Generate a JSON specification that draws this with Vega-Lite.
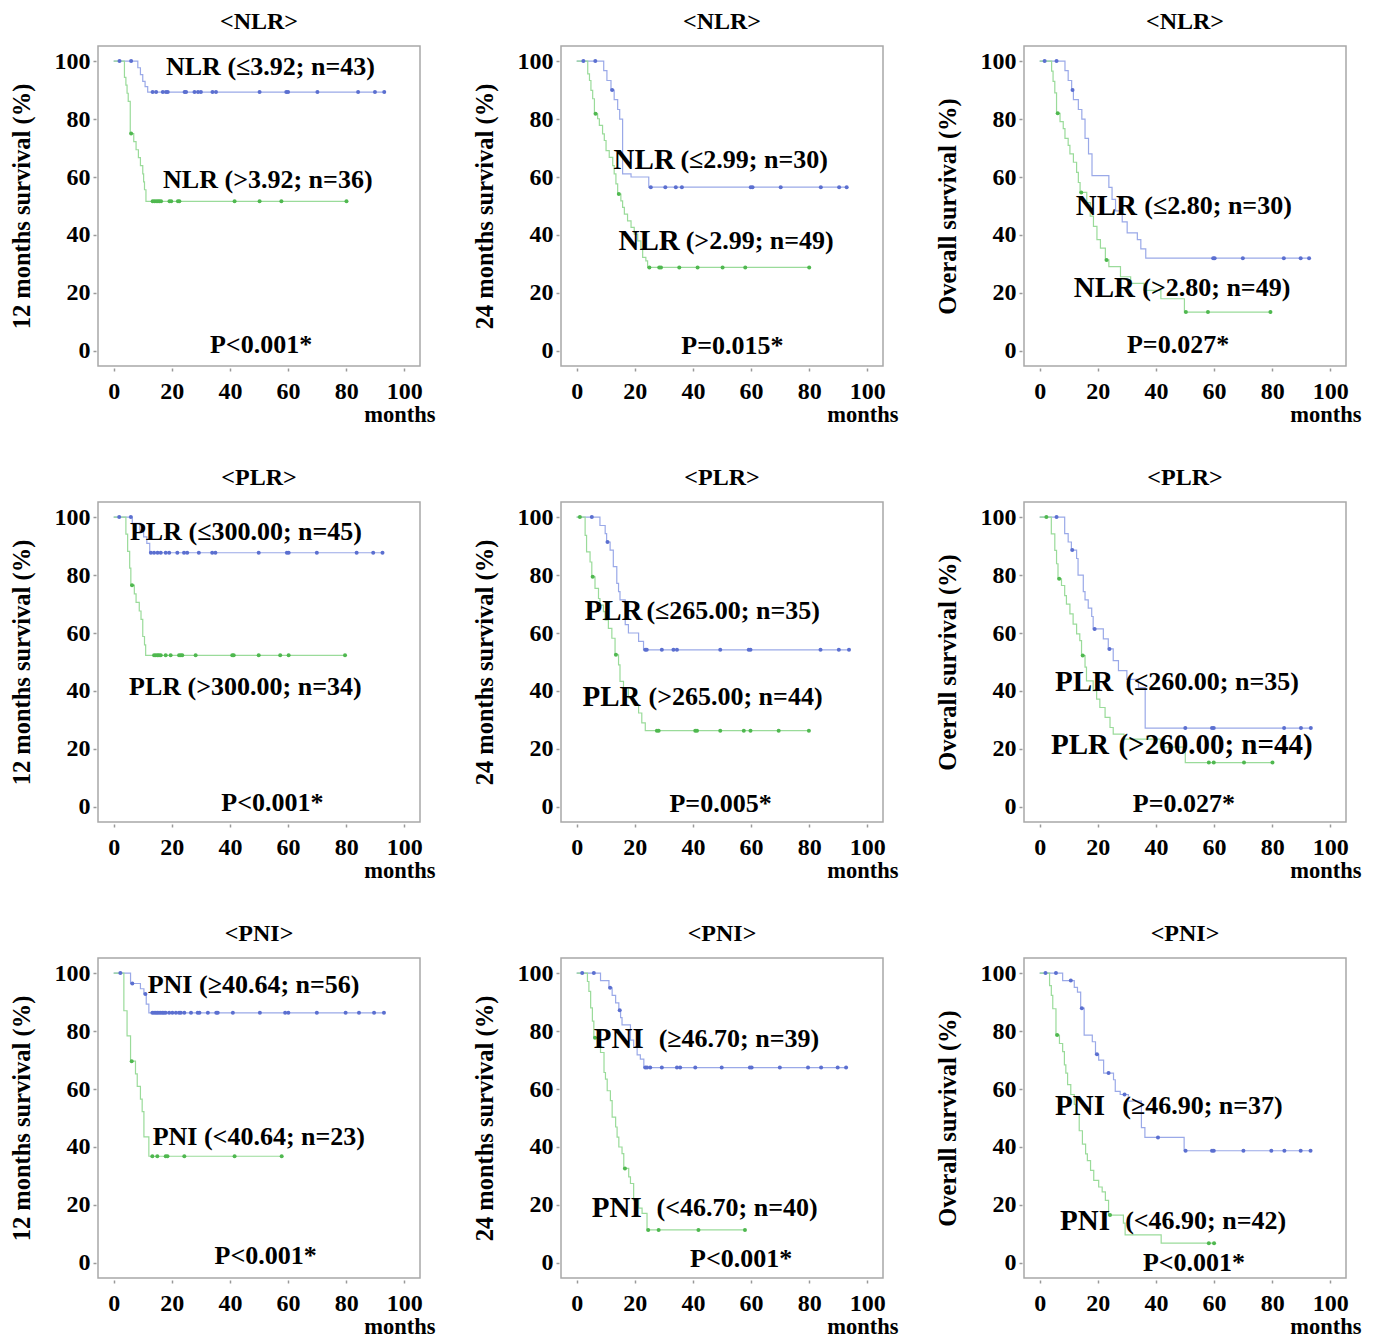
{
"$schema": "https://vega.github.io/schema/vega-lite/v6.json",
"background": "white",
"padding": {"left": 8, "top": 9, "right": 5, "bottom": 5},
"config": {
  "font": "Liberation Serif",
  "view": {"stroke": "#a8a8a8", "strokeWidth": 1.5},
  "axis": {"domain": false, "grid": false, "ticks": true, "tickSize": 3, "tickWidth": 1.5, "tickColor": "#999999", "offset": 2,
           "labelFont": "Liberation Serif", "labelFontWeight": "bold", "labelFontSize": 24, "labelColor": "black",
           "titleFont": "Liberation Serif", "titleFontWeight": "bold", "titleFontSize": 24.5, "titleColor": "black"},
  "axisX": {"labelPadding": 8, "titleX": 337, "titleAlign": "right", "titlePadding": 0, "titleFontSize": 22.5},
  "axisY": {"labelPadding": 3, "titlePadding": 19.5},
  "title": {"font": "Liberation Serif", "fontSize": 24, "fontWeight": "bold", "offset": 12, "color": "black"},
  "text": {"font": "Liberation Serif", "fontWeight": "bold", "color": "black"}
},
"datasets": {
"km": [
{"p":1,"g":"a","t":0,"s":100,"c":0},{"p":1,"g":"a","t":2,"s":100,"c":1},{"p":1,"g":"a","t":6,"s":100,"c":1},{"p":1,"g":"a","t":8.3,"s":97.7,"c":0},{"p":1,"g":"a","t":9.2,"s":95.3,"c":0},{"p":1,"g":"a","t":10,"s":93,"c":0},{"p":1,"g":"a","t":10.8,"s":91.2,"c":0},{"p":1,"g":"a","t":11.7,"s":89.3,"c":0},
{"p":1,"g":"a","t":13.4,"s":89.3,"c":1},{"p":1,"g":"a","t":14.6,"s":89.3,"c":1},{"p":1,"g":"a","t":16.9,"s":89.3,"c":1},{"p":1,"g":"a","t":18,"s":89.3,"c":1},{"p":1,"g":"a","t":18.6,"s":89.3,"c":1},{"p":1,"g":"a","t":24.4,"s":89.3,"c":1},{"p":1,"g":"a","t":24.9,"s":89.3,"c":1},{"p":1,"g":"a","t":27.8,"s":89.3,"c":1},{"p":1,"g":"a","t":29,"s":89.3,"c":1},{"p":1,"g":"a","t":30,"s":89.3,"c":1},{"p":1,"g":"a","t":34,"s":89.3,"c":1},{"p":1,"g":"a","t":35.2,"s":89.3,"c":1},{"p":1,"g":"a","t":50.2,"s":89.3,"c":1},{"p":1,"g":"a","t":59.4,"s":89.3,"c":1},{"p":1,"g":"a","t":60,"s":89.3,"c":1},{"p":1,"g":"a","t":70.1,"s":89.3,"c":1},{"p":1,"g":"a","t":84.1,"s":89.3,"c":1},{"p":1,"g":"a","t":89.9,"s":89.3,"c":1},{"p":1,"g":"a","t":93.1,"s":89.3,"c":1},
{"p":1,"g":"b","t":0,"s":100,"c":0},{"p":1,"g":"b","t":3.7,"s":94.4,"c":0},{"p":1,"g":"b","t":4.2,"s":91.7,"c":0},{"p":1,"g":"b","t":4.6,"s":88.9,"c":0},{"p":1,"g":"b","t":5,"s":86.1,"c":0},{"p":1,"g":"b","t":5.7,"s":75,"c":0},{"p":1,"g":"b","t":6,"s":75,"c":1},{"p":1,"g":"b","t":6.9,"s":72.2,"c":0},{"p":1,"g":"b","t":7.7,"s":69.4,"c":0},{"p":1,"g":"b","t":8.5,"s":66.7,"c":0},{"p":1,"g":"b","t":9.2,"s":63.9,"c":0},{"p":1,"g":"b","t":10,"s":61.1,"c":0},{"p":1,"g":"b","t":10.3,"s":58.3,"c":0},{"p":1,"g":"b","t":10.6,"s":55.6,"c":0},{"p":1,"g":"b","t":11.1,"s":51.6,"c":0},
{"p":1,"g":"b","t":13.4,"s":51.6,"c":1},{"p":1,"g":"b","t":14,"s":51.6,"c":1},{"p":1,"g":"b","t":14.6,"s":51.6,"c":1},{"p":1,"g":"b","t":15.2,"s":51.6,"c":1},{"p":1,"g":"b","t":15.7,"s":51.6,"c":1},{"p":1,"g":"b","t":16.3,"s":51.6,"c":1},{"p":1,"g":"b","t":19.2,"s":51.6,"c":1},{"p":1,"g":"b","t":19.8,"s":51.6,"c":1},{"p":1,"g":"b","t":22.1,"s":51.6,"c":1},{"p":1,"g":"b","t":22.6,"s":51.6,"c":1},{"p":1,"g":"b","t":41.6,"s":51.6,"c":1},{"p":1,"g":"b","t":50.2,"s":51.6,"c":1},{"p":1,"g":"b","t":57.7,"s":51.6,"c":1},{"p":1,"g":"b","t":80.1,"s":51.6,"c":1},
{"p":2,"g":"a","t":0,"s":100,"c":0},{"p":2,"g":"a","t":2.3,"s":100,"c":1},{"p":2,"g":"a","t":6.4,"s":100,"c":1},{"p":2,"g":"a","t":9.3,"s":96.7,"c":0},{"p":2,"g":"a","t":10.4,"s":93.3,"c":0},{"p":2,"g":"a","t":11.8,"s":90,"c":0},{"p":2,"g":"a","t":12.2,"s":90,"c":1},{"p":2,"g":"a","t":12.9,"s":86.7,"c":0},{"p":2,"g":"a","t":14.1,"s":83.3,"c":0},{"p":2,"g":"a","t":14.8,"s":80,"c":0},{"p":2,"g":"a","t":15.8,"s":61.1,"c":0},{"p":2,"g":"a","t":18.7,"s":60,"c":0},{"p":2,"g":"a","t":24.8,"s":56.5,"c":0},
{"p":2,"g":"a","t":25.5,"s":56.5,"c":1},{"p":2,"g":"a","t":30.5,"s":56.5,"c":1},{"p":2,"g":"a","t":34.1,"s":56.5,"c":1},{"p":2,"g":"a","t":36.2,"s":56.5,"c":1},{"p":2,"g":"a","t":59.9,"s":56.5,"c":1},{"p":2,"g":"a","t":60.5,"s":56.5,"c":1},{"p":2,"g":"a","t":70.2,"s":56.5,"c":1},{"p":2,"g":"a","t":84,"s":56.5,"c":1},{"p":2,"g":"a","t":90.3,"s":56.5,"c":1},{"p":2,"g":"a","t":92.9,"s":56.5,"c":1},
{"p":2,"g":"b","t":0,"s":100,"c":0},{"p":2,"g":"b","t":3.8,"s":95.6,"c":0},{"p":2,"g":"b","t":4.4,"s":93.3,"c":0},{"p":2,"g":"b","t":4.9,"s":89.9,"c":0},{"p":2,"g":"b","t":5.5,"s":87,"c":0},{"p":2,"g":"b","t":6.1,"s":81.8,"c":0},{"p":2,"g":"b","t":6.5,"s":81.8,"c":1},{"p":2,"g":"b","t":7.2,"s":80.1,"c":0},{"p":2,"g":"b","t":7.8,"s":77.8,"c":0},{"p":2,"g":"b","t":8.9,"s":74.9,"c":0},{"p":2,"g":"b","t":9.5,"s":72.6,"c":0},{"p":2,"g":"b","t":10.1,"s":69.1,"c":0},{"p":2,"g":"b","t":11.2,"s":66.8,"c":0},{"p":2,"g":"b","t":12.4,"s":63.9,"c":0},{"p":2,"g":"b","t":12.9,"s":61.1,"c":0},{"p":2,"g":"b","t":13.5,"s":57.6,"c":0},{"p":2,"g":"b","t":14.1,"s":54.1,"c":0},{"p":2,"g":"b","t":14.5,"s":54.1,"c":1},{"p":2,"g":"b","t":15.2,"s":51.8,"c":0},{"p":2,"g":"b","t":15.8,"s":49.5,"c":0},{"p":2,"g":"b","t":16.4,"s":47.2,"c":0},{"p":2,"g":"b","t":17.5,"s":44.9,"c":0},{"p":2,"g":"b","t":18.7,"s":42.6,"c":0},{"p":2,"g":"b","t":19.8,"s":40.3,"c":0},{"p":2,"g":"b","t":21,"s":38,"c":0},{"p":2,"g":"b","t":22.1,"s":35.1,"c":0},{"p":2,"g":"b","t":22.7,"s":32.3,"c":0},{"p":2,"g":"b","t":23.8,"s":31.1,"c":0},{"p":2,"g":"b","t":24.4,"s":28.8,"c":0},
{"p":2,"g":"b","t":25,"s":28.8,"c":1},{"p":2,"g":"b","t":28.4,"s":28.8,"c":1},{"p":2,"g":"b","t":29,"s":28.8,"c":1},{"p":2,"g":"b","t":35.3,"s":28.8,"c":1},{"p":2,"g":"b","t":41.6,"s":28.8,"c":1},{"p":2,"g":"b","t":50.2,"s":28.8,"c":1},{"p":2,"g":"b","t":58,"s":28.8,"c":1},{"p":2,"g":"b","t":80,"s":28.8,"c":1},
{"p":3,"g":"a","t":0,"s":100,"c":0},{"p":3,"g":"a","t":1.7,"s":100,"c":1},{"p":3,"g":"a","t":5.8,"s":100,"c":1},{"p":3,"g":"a","t":8.7,"s":96.7,"c":0},{"p":3,"g":"a","t":9.8,"s":93.3,"c":0},{"p":3,"g":"a","t":11,"s":90,"c":0},{"p":3,"g":"a","t":11.3,"s":90,"c":1},{"p":3,"g":"a","t":11.6,"s":86.7,"c":0},{"p":3,"g":"a","t":13.3,"s":83.3,"c":0},{"p":3,"g":"a","t":14.5,"s":80,"c":0},{"p":3,"g":"a","t":15.6,"s":73.3,"c":0},{"p":3,"g":"a","t":16.8,"s":68,"c":0},{"p":3,"g":"a","t":18,"s":60.5,"c":0},{"p":3,"g":"a","t":23.8,"s":56.4,"c":0},{"p":3,"g":"a","t":24.9,"s":52.3,"c":0},{"p":3,"g":"a","t":26.1,"s":48.3,"c":0},{"p":3,"g":"a","t":28.4,"s":44.5,"c":0},{"p":3,"g":"a","t":30.1,"s":40.7,"c":0},{"p":3,"g":"a","t":33.6,"s":38.4,"c":0},{"p":3,"g":"a","t":34.8,"s":35.2,"c":0},{"p":3,"g":"a","t":36.5,"s":32,"c":0},
{"p":3,"g":"a","t":59.7,"s":32,"c":1},{"p":3,"g":"a","t":60.2,"s":32,"c":1},{"p":3,"g":"a","t":69.9,"s":32,"c":1},{"p":3,"g":"a","t":84,"s":32,"c":1},{"p":3,"g":"a","t":89.8,"s":32,"c":1},{"p":3,"g":"a","t":92.7,"s":32,"c":1},
{"p":3,"g":"b","t":0,"s":100,"c":0},{"p":3,"g":"b","t":4.1,"s":96.5,"c":0},{"p":3,"g":"b","t":4.6,"s":93,"c":0},{"p":3,"g":"b","t":5.2,"s":89,"c":0},{"p":3,"g":"b","t":5.8,"s":82,"c":0},{"p":3,"g":"b","t":6.2,"s":82,"c":1},{"p":3,"g":"b","t":7,"s":79.1,"c":0},{"p":3,"g":"b","t":8.1,"s":76.7,"c":0},{"p":3,"g":"b","t":8.7,"s":73.3,"c":0},{"p":3,"g":"b","t":9.8,"s":70.9,"c":0},{"p":3,"g":"b","t":10.4,"s":68,"c":0},{"p":3,"g":"b","t":11.6,"s":65.1,"c":0},{"p":3,"g":"b","t":12.7,"s":61.6,"c":0},{"p":3,"g":"b","t":13.3,"s":58.1,"c":0},{"p":3,"g":"b","t":13.9,"s":54.7,"c":0},{"p":3,"g":"b","t":14.3,"s":54.7,"c":1},{"p":3,"g":"b","t":16.2,"s":51.2,"c":0},{"p":3,"g":"b","t":17.4,"s":46.5,"c":0},{"p":3,"g":"b","t":18.5,"s":43,"c":0},{"p":3,"g":"b","t":19.7,"s":38.4,"c":0},{"p":3,"g":"b","t":20.9,"s":35.5,"c":0},{"p":3,"g":"b","t":22.6,"s":31.4,"c":0},{"p":3,"g":"b","t":23,"s":31.4,"c":1},{"p":3,"g":"b","t":23.8,"s":29.1,"c":0},{"p":3,"g":"b","t":27.8,"s":25.6,"c":0},{"p":3,"g":"b","t":31.3,"s":23.3,"c":0},{"p":3,"g":"b","t":35.9,"s":20.9,"c":0},{"p":3,"g":"b","t":41.7,"s":18,"c":0},{"p":3,"g":"b","t":49.8,"s":13.4,"c":0},
{"p":3,"g":"b","t":50.3,"s":13.4,"c":1},{"p":3,"g":"b","t":57.9,"s":13.4,"c":1},{"p":3,"g":"b","t":79.4,"s":13.4,"c":1},
{"p":4,"g":"a","t":0,"s":100,"c":0},{"p":4,"g":"a","t":1.9,"s":100,"c":1},{"p":4,"g":"a","t":5.9,"s":100,"c":1},{"p":4,"g":"a","t":6.4,"s":97.8,"c":0},{"p":4,"g":"a","t":9,"s":95.5,"c":0},{"p":4,"g":"a","t":10.3,"s":93.2,"c":0},{"p":4,"g":"a","t":11.4,"s":90.9,"c":0},{"p":4,"g":"a","t":12.4,"s":87.7,"c":0},
{"p":4,"g":"a","t":12.8,"s":87.7,"c":1},{"p":4,"g":"a","t":13.9,"s":87.7,"c":1},{"p":4,"g":"a","t":15.1,"s":87.7,"c":1},{"p":4,"g":"a","t":16.2,"s":87.7,"c":1},{"p":4,"g":"a","t":17.9,"s":87.7,"c":1},{"p":4,"g":"a","t":19.1,"s":87.7,"c":1},{"p":4,"g":"a","t":21.9,"s":87.7,"c":1},{"p":4,"g":"a","t":24.2,"s":87.7,"c":1},{"p":4,"g":"a","t":25.3,"s":87.7,"c":1},{"p":4,"g":"a","t":29.3,"s":87.7,"c":1},{"p":4,"g":"a","t":33.9,"s":87.7,"c":1},{"p":4,"g":"a","t":35,"s":87.7,"c":1},{"p":4,"g":"a","t":49.9,"s":87.7,"c":1},{"p":4,"g":"a","t":59.6,"s":87.7,"c":1},{"p":4,"g":"a","t":60.2,"s":87.7,"c":1},{"p":4,"g":"a","t":69.9,"s":87.7,"c":1},{"p":4,"g":"a","t":83.6,"s":87.7,"c":1},{"p":4,"g":"a","t":89.3,"s":87.7,"c":1},{"p":4,"g":"a","t":92.5,"s":87.7,"c":1},
{"p":4,"g":"b","t":0,"s":100,"c":0},{"p":4,"g":"b","t":4.2,"s":94.1,"c":0},{"p":4,"g":"b","t":4.8,"s":88.2,"c":0},{"p":4,"g":"b","t":5.5,"s":82.4,"c":0},{"p":4,"g":"b","t":5.9,"s":76.5,"c":0},{"p":4,"g":"b","t":6.3,"s":76.5,"c":1},{"p":4,"g":"b","t":7.1,"s":73.5,"c":0},{"p":4,"g":"b","t":7.7,"s":70.6,"c":0},{"p":4,"g":"b","t":8.8,"s":67.6,"c":0},{"p":4,"g":"b","t":9.4,"s":64.7,"c":0},{"p":4,"g":"b","t":10,"s":58.8,"c":0},{"p":4,"g":"b","t":10.6,"s":55.9,"c":0},{"p":4,"g":"b","t":11,"s":52.3,"c":0},
{"p":4,"g":"b","t":13.9,"s":52.3,"c":1},{"p":4,"g":"b","t":14.5,"s":52.3,"c":1},{"p":4,"g":"b","t":15.1,"s":52.3,"c":1},{"p":4,"g":"b","t":15.6,"s":52.3,"c":1},{"p":4,"g":"b","t":16.2,"s":52.3,"c":1},{"p":4,"g":"b","t":17.9,"s":52.3,"c":1},{"p":4,"g":"b","t":19.6,"s":52.3,"c":1},{"p":4,"g":"b","t":22.5,"s":52.3,"c":1},{"p":4,"g":"b","t":23.1,"s":52.3,"c":1},{"p":4,"g":"b","t":23.6,"s":52.3,"c":1},{"p":4,"g":"b","t":28.2,"s":52.3,"c":1},{"p":4,"g":"b","t":40.8,"s":52.3,"c":1},{"p":4,"g":"b","t":41.3,"s":52.3,"c":1},{"p":4,"g":"b","t":49.9,"s":52.3,"c":1},{"p":4,"g":"b","t":57.3,"s":52.3,"c":1},{"p":4,"g":"b","t":60.2,"s":52.3,"c":1},{"p":4,"g":"b","t":79.6,"s":52.3,"c":1},
{"p":5,"g":"a","t":0,"s":100,"c":0},{"p":5,"g":"a","t":5.2,"s":100,"c":1},{"p":5,"g":"a","t":8,"s":97.1,"c":0},{"p":5,"g":"a","t":9.8,"s":94.3,"c":0},{"p":5,"g":"a","t":10.3,"s":91.4,"c":0},{"p":5,"g":"a","t":10.6,"s":91.4,"c":1},{"p":5,"g":"a","t":11.5,"s":88.6,"c":0},{"p":5,"g":"a","t":12.6,"s":82.9,"c":0},{"p":5,"g":"a","t":13.8,"s":77.1,"c":0},{"p":5,"g":"a","t":14.4,"s":74.3,"c":0},{"p":5,"g":"a","t":14.9,"s":71.4,"c":0},{"p":5,"g":"a","t":16.7,"s":62.9,"c":0},{"p":5,"g":"a","t":17.8,"s":60,"c":0},{"p":5,"g":"a","t":21.3,"s":57.1,"c":0},{"p":5,"g":"a","t":23,"s":54.2,"c":0},
{"p":5,"g":"a","t":23.6,"s":54.2,"c":1},{"p":5,"g":"a","t":24.1,"s":54.2,"c":1},{"p":5,"g":"a","t":29.3,"s":54.2,"c":1},{"p":5,"g":"a","t":33.3,"s":54.2,"c":1},{"p":5,"g":"a","t":34.5,"s":54.2,"c":1},{"p":5,"g":"a","t":49.4,"s":54.2,"c":1},{"p":5,"g":"a","t":59.2,"s":54.2,"c":1},{"p":5,"g":"a","t":59.8,"s":54.2,"c":1},{"p":5,"g":"a","t":83.9,"s":54.2,"c":1},{"p":5,"g":"a","t":90.2,"s":54.2,"c":1},{"p":5,"g":"a","t":93.7,"s":54.2,"c":1},
{"p":5,"g":"b","t":0,"s":100,"c":0},{"p":5,"g":"b","t":1.1,"s":100,"c":1},{"p":5,"g":"b","t":2.9,"s":93.7,"c":0},{"p":5,"g":"b","t":3.4,"s":88,"c":0},{"p":5,"g":"b","t":4.6,"s":84.5,"c":0},{"p":5,"g":"b","t":5.2,"s":79.4,"c":0},{"p":5,"g":"b","t":5.5,"s":79.4,"c":1},{"p":5,"g":"b","t":6.3,"s":75.4,"c":0},{"p":5,"g":"b","t":7.5,"s":71.9,"c":0},{"p":5,"g":"b","t":8,"s":69.6,"c":0},{"p":5,"g":"b","t":9.2,"s":67.4,"c":0},{"p":5,"g":"b","t":9.8,"s":64.5,"c":0},{"p":5,"g":"b","t":10.9,"s":61.6,"c":0},{"p":5,"g":"b","t":12.1,"s":58.2,"c":0},{"p":5,"g":"b","t":13.2,"s":52.5,"c":0},{"p":5,"g":"b","t":13.5,"s":52.5,"c":1},{"p":5,"g":"b","t":14.4,"s":49,"c":0},{"p":5,"g":"b","t":14.9,"s":43.3,"c":0},{"p":5,"g":"b","t":16.1,"s":41,"c":0},{"p":5,"g":"b","t":17.8,"s":37.6,"c":0},{"p":5,"g":"b","t":19.5,"s":35.3,"c":0},{"p":5,"g":"b","t":21.3,"s":32.4,"c":0},{"p":5,"g":"b","t":22.4,"s":29,"c":0},{"p":5,"g":"b","t":23.6,"s":26.3,"c":0},
{"p":5,"g":"b","t":27.6,"s":26.3,"c":1},{"p":5,"g":"b","t":28.2,"s":26.3,"c":1},{"p":5,"g":"b","t":40.8,"s":26.3,"c":1},{"p":5,"g":"b","t":41.4,"s":26.3,"c":1},{"p":5,"g":"b","t":49.4,"s":26.3,"c":1},{"p":5,"g":"b","t":57.5,"s":26.3,"c":1},{"p":5,"g":"b","t":59.8,"s":26.3,"c":1},{"p":5,"g":"b","t":69.5,"s":26.3,"c":1},{"p":5,"g":"b","t":79.9,"s":26.3,"c":1},
{"p":6,"g":"a","t":0,"s":100,"c":0},{"p":6,"g":"a","t":5.8,"s":100,"c":1},{"p":6,"g":"a","t":8.6,"s":94.3,"c":0},{"p":6,"g":"a","t":9.8,"s":91.4,"c":0},{"p":6,"g":"a","t":10.9,"s":88.6,"c":0},{"p":6,"g":"a","t":11.2,"s":88.6,"c":1},{"p":6,"g":"a","t":12.7,"s":85.7,"c":0},{"p":6,"g":"a","t":13.2,"s":80,"c":0},{"p":6,"g":"a","t":15,"s":74.3,"c":0},{"p":6,"g":"a","t":15.6,"s":71.4,"c":0},{"p":6,"g":"a","t":16.7,"s":68.6,"c":0},{"p":6,"g":"a","t":17.9,"s":65.7,"c":0},{"p":6,"g":"a","t":18.4,"s":61.4,"c":0},{"p":6,"g":"a","t":18.9,"s":61.4,"c":1},{"p":6,"g":"a","t":21.9,"s":58,"c":0},{"p":6,"g":"a","t":23.6,"s":54.5,"c":0},{"p":6,"g":"a","t":24,"s":54.5,"c":1},{"p":6,"g":"a","t":25.3,"s":50.5,"c":0},{"p":6,"g":"a","t":27.1,"s":47,"c":0},{"p":6,"g":"a","t":30,"s":44,"c":0},{"p":6,"g":"a","t":34,"s":41.2,"c":0},{"p":6,"g":"a","t":36.3,"s":27.2,"c":0},
{"p":6,"g":"a","t":50.1,"s":27.2,"c":1},{"p":6,"g":"a","t":59.3,"s":27.2,"c":1},{"p":6,"g":"a","t":59.9,"s":27.2,"c":1},{"p":6,"g":"a","t":84.1,"s":27.2,"c":1},{"p":6,"g":"a","t":89.9,"s":27.2,"c":1},{"p":6,"g":"a","t":93.3,"s":27.2,"c":1},
{"p":6,"g":"b","t":0,"s":100,"c":0},{"p":6,"g":"b","t":2.3,"s":100,"c":1},{"p":6,"g":"b","t":4,"s":94.2,"c":0},{"p":6,"g":"b","t":5.2,"s":88.5,"c":0},{"p":6,"g":"b","t":5.8,"s":83.9,"c":0},{"p":6,"g":"b","t":6.3,"s":78.7,"c":0},{"p":6,"g":"b","t":6.7,"s":78.7,"c":1},{"p":6,"g":"b","t":7.5,"s":76.4,"c":0},{"p":6,"g":"b","t":8.6,"s":72.9,"c":0},{"p":6,"g":"b","t":9.2,"s":70,"c":0},{"p":6,"g":"b","t":10.4,"s":66.6,"c":0},{"p":6,"g":"b","t":11.5,"s":63.1,"c":0},{"p":6,"g":"b","t":12.7,"s":59.7,"c":0},{"p":6,"g":"b","t":13.8,"s":57.4,"c":0},{"p":6,"g":"b","t":14.4,"s":52.2,"c":0},{"p":6,"g":"b","t":14.8,"s":52.2,"c":1},{"p":6,"g":"b","t":15.6,"s":48.2,"c":0},{"p":6,"g":"b","t":16.1,"s":43.5,"c":0},{"p":6,"g":"b","t":18.4,"s":40.1,"c":0},{"p":6,"g":"b","t":19.6,"s":37.2,"c":0},{"p":6,"g":"b","t":20.7,"s":34.3,"c":0},{"p":6,"g":"b","t":22.5,"s":30.9,"c":0},{"p":6,"g":"b","t":24.2,"s":27.4,"c":0},{"p":6,"g":"b","t":25.3,"s":25.1,"c":0},{"p":6,"g":"b","t":29,"s":23.4,"c":0},{"p":6,"g":"b","t":41.5,"s":20.6,"c":0},{"p":6,"g":"b","t":50.1,"s":15.3,"c":0},
{"p":6,"g":"b","t":58.2,"s":15.3,"c":1},{"p":6,"g":"b","t":59.9,"s":15.3,"c":1},{"p":6,"g":"b","t":70.3,"s":15.3,"c":1},{"p":6,"g":"b","t":80.1,"s":15.3,"c":1},
{"p":7,"g":"a","t":0,"s":100,"c":0},{"p":7,"g":"a","t":2.3,"s":100,"c":1},{"p":7,"g":"a","t":5.8,"s":96.4,"c":0},{"p":7,"g":"a","t":6.4,"s":96.4,"c":1},{"p":7,"g":"a","t":9.2,"s":94.6,"c":0},{"p":7,"g":"a","t":10.4,"s":92.8,"c":0},{"p":7,"g":"a","t":10.9,"s":92.8,"c":1},{"p":7,"g":"a","t":11.2,"s":89.3,"c":0},{"p":7,"g":"a","t":12.1,"s":86.3,"c":0},
{"p":7,"g":"a","t":13.3,"s":86.3,"c":1},{"p":7,"g":"a","t":13.9,"s":86.3,"c":1},{"p":7,"g":"a","t":14.5,"s":86.3,"c":1},{"p":7,"g":"a","t":15,"s":86.3,"c":1},{"p":7,"g":"a","t":15.6,"s":86.3,"c":1},{"p":7,"g":"a","t":16.2,"s":86.3,"c":1},{"p":7,"g":"a","t":16.8,"s":86.3,"c":1},{"p":7,"g":"a","t":17.3,"s":86.3,"c":1},{"p":7,"g":"a","t":17.9,"s":86.3,"c":1},{"p":7,"g":"a","t":19.1,"s":86.3,"c":1},{"p":7,"g":"a","t":20.2,"s":86.3,"c":1},{"p":7,"g":"a","t":21.4,"s":86.3,"c":1},{"p":7,"g":"a","t":22.5,"s":86.3,"c":1},{"p":7,"g":"a","t":23.1,"s":86.3,"c":1},{"p":7,"g":"a","t":24.3,"s":86.3,"c":1},{"p":7,"g":"a","t":26.6,"s":86.3,"c":1},{"p":7,"g":"a","t":28.9,"s":86.3,"c":1},{"p":7,"g":"a","t":29.5,"s":86.3,"c":1},{"p":7,"g":"a","t":32.4,"s":86.3,"c":1},{"p":7,"g":"a","t":35.3,"s":86.3,"c":1},{"p":7,"g":"a","t":35.8,"s":86.3,"c":1},{"p":7,"g":"a","t":41,"s":86.3,"c":1},{"p":7,"g":"a","t":50.3,"s":86.3,"c":1},{"p":7,"g":"a","t":59,"s":86.3,"c":1},{"p":7,"g":"a","t":60.1,"s":86.3,"c":1},{"p":7,"g":"a","t":69.9,"s":86.3,"c":1},{"p":7,"g":"a","t":79.8,"s":86.3,"c":1},{"p":7,"g":"a","t":84.4,"s":86.3,"c":1},{"p":7,"g":"a","t":89.6,"s":86.3,"c":1},{"p":7,"g":"a","t":93,"s":86.3,"c":1},
{"p":7,"g":"b","t":0,"s":100,"c":0},{"p":7,"g":"b","t":3.5,"s":87,"c":0},{"p":7,"g":"b","t":4.6,"s":78.3,"c":0},{"p":7,"g":"b","t":5.8,"s":69.6,"c":0},{"p":7,"g":"b","t":6.2,"s":69.6,"c":1},{"p":7,"g":"b","t":7.5,"s":65.2,"c":0},{"p":7,"g":"b","t":8.1,"s":60.9,"c":0},{"p":7,"g":"b","t":9.2,"s":56.5,"c":0},{"p":7,"g":"b","t":9.8,"s":52.2,"c":0},{"p":7,"g":"b","t":10.4,"s":43.5,"c":0},{"p":7,"g":"b","t":12.1,"s":36.8,"c":0},
{"p":7,"g":"b","t":13.3,"s":36.8,"c":1},{"p":7,"g":"b","t":15,"s":36.8,"c":1},{"p":7,"g":"b","t":17.9,"s":36.8,"c":1},{"p":7,"g":"b","t":18.5,"s":36.8,"c":1},{"p":7,"g":"b","t":24.3,"s":36.8,"c":1},{"p":7,"g":"b","t":41.6,"s":36.8,"c":1},{"p":7,"g":"b","t":57.8,"s":36.8,"c":1},
{"p":8,"g":"a","t":0,"s":100,"c":0},{"p":8,"g":"a","t":1.9,"s":100,"c":1},{"p":8,"g":"a","t":5.9,"s":100,"c":1},{"p":8,"g":"a","t":8.2,"s":97.4,"c":0},{"p":8,"g":"a","t":11.1,"s":94.9,"c":0},{"p":8,"g":"a","t":11.5,"s":94.9,"c":1},{"p":8,"g":"a","t":12.2,"s":92.3,"c":0},{"p":8,"g":"a","t":13.4,"s":89.7,"c":0},{"p":8,"g":"a","t":14.5,"s":87.2,"c":0},{"p":8,"g":"a","t":14.8,"s":87.2,"c":1},{"p":8,"g":"a","t":15.1,"s":84.6,"c":0},{"p":8,"g":"a","t":15.6,"s":82.1,"c":0},{"p":8,"g":"a","t":18.5,"s":76.9,"c":0},{"p":8,"g":"a","t":19.6,"s":74.4,"c":0},{"p":8,"g":"a","t":20.8,"s":71.8,"c":0},{"p":8,"g":"a","t":21.9,"s":70.3,"c":0},{"p":8,"g":"a","t":23.1,"s":67.4,"c":0},
{"p":8,"g":"a","t":23.6,"s":67.4,"c":1},{"p":8,"g":"a","t":24.2,"s":67.4,"c":1},{"p":8,"g":"a","t":25.3,"s":67.4,"c":1},{"p":8,"g":"a","t":29.3,"s":67.4,"c":1},{"p":8,"g":"a","t":34.5,"s":67.4,"c":1},{"p":8,"g":"a","t":35.6,"s":67.4,"c":1},{"p":8,"g":"a","t":40.8,"s":67.4,"c":1},{"p":8,"g":"a","t":49.9,"s":67.4,"c":1},{"p":8,"g":"a","t":59.6,"s":67.4,"c":1},{"p":8,"g":"a","t":60.2,"s":67.4,"c":1},{"p":8,"g":"a","t":69.9,"s":67.4,"c":1},{"p":8,"g":"a","t":79.6,"s":67.4,"c":1},{"p":8,"g":"a","t":84.1,"s":67.4,"c":1},{"p":8,"g":"a","t":89.8,"s":67.4,"c":1},{"p":8,"g":"a","t":92.7,"s":67.4,"c":1},
{"p":8,"g":"b","t":0,"s":100,"c":0},{"p":8,"g":"b","t":3.7,"s":97.1,"c":0},{"p":8,"g":"b","t":4.2,"s":93.7,"c":0},{"p":8,"g":"b","t":4.8,"s":88,"c":0},{"p":8,"g":"b","t":5.4,"s":83.4,"c":0},{"p":8,"g":"b","t":5.9,"s":77.7,"c":0},{"p":8,"g":"b","t":6.3,"s":77.7,"c":1},{"p":8,"g":"b","t":7.1,"s":74.9,"c":0},{"p":8,"g":"b","t":8.2,"s":72.6,"c":0},{"p":8,"g":"b","t":9.4,"s":65.7,"c":0},{"p":8,"g":"b","t":9.9,"s":63.4,"c":0},{"p":8,"g":"b","t":10.5,"s":59.4,"c":0},{"p":8,"g":"b","t":11.6,"s":56,"c":0},{"p":8,"g":"b","t":12.2,"s":50.3,"c":0},{"p":8,"g":"b","t":13.4,"s":46.9,"c":0},{"p":8,"g":"b","t":13.9,"s":43.4,"c":0},{"p":8,"g":"b","t":14.5,"s":40,"c":0},{"p":8,"g":"b","t":15.6,"s":37.7,"c":0},{"p":8,"g":"b","t":16.2,"s":32.6,"c":0},{"p":8,"g":"b","t":16.6,"s":32.6,"c":1},{"p":8,"g":"b","t":17.9,"s":29.7,"c":0},{"p":8,"g":"b","t":18.5,"s":27.4,"c":0},{"p":8,"g":"b","t":19.6,"s":21.7,"c":0},{"p":8,"g":"b","t":21.3,"s":18.9,"c":0},{"p":8,"g":"b","t":22.5,"s":17.1,"c":0},{"p":8,"g":"b","t":24.2,"s":11.4,"c":0},
{"p":8,"g":"b","t":24.6,"s":11.4,"c":1},{"p":8,"g":"b","t":28.2,"s":11.4,"c":1},{"p":8,"g":"b","t":41.9,"s":11.4,"c":1},{"p":8,"g":"b","t":57.9,"s":11.4,"c":1},
{"p":9,"g":"a","t":0,"s":100,"c":0},{"p":9,"g":"a","t":2,"s":100,"c":1},{"p":9,"g":"a","t":5.6,"s":100,"c":1},{"p":9,"g":"a","t":7.9,"s":97.4,"c":0},{"p":9,"g":"a","t":10.7,"s":97.4,"c":1},{"p":9,"g":"a","t":11.9,"s":95.1,"c":0},{"p":9,"g":"a","t":13,"s":93.4,"c":0},{"p":9,"g":"a","t":14.1,"s":87.9,"c":0},{"p":9,"g":"a","t":14.5,"s":87.9,"c":1},{"p":9,"g":"a","t":15.3,"s":78.6,"c":0},{"p":9,"g":"a","t":18.1,"s":76.3,"c":0},{"p":9,"g":"a","t":19.2,"s":72,"c":0},{"p":9,"g":"a","t":19.7,"s":72,"c":1},{"p":9,"g":"a","t":20.3,"s":70,"c":0},{"p":9,"g":"a","t":22,"s":65.5,"c":0},{"p":9,"g":"a","t":23.7,"s":65.5,"c":1},{"p":9,"g":"a","t":25.4,"s":63.2,"c":0},{"p":9,"g":"a","t":26,"s":59.2,"c":0},{"p":9,"g":"a","t":27.7,"s":58.1,"c":0},{"p":9,"g":"a","t":29.2,"s":58.1,"c":1},{"p":9,"g":"a","t":30.5,"s":55.8,"c":0},{"p":9,"g":"a","t":35,"s":46.7,"c":0},{"p":9,"g":"a","t":36.2,"s":43.3,"c":0},{"p":9,"g":"a","t":40.7,"s":43.3,"c":1},{"p":9,"g":"a","t":49.7,"s":38.7,"c":0},
{"p":9,"g":"a","t":50.2,"s":38.7,"c":1},{"p":9,"g":"a","t":59.3,"s":38.7,"c":1},{"p":9,"g":"a","t":59.9,"s":38.7,"c":1},{"p":9,"g":"a","t":70.1,"s":38.7,"c":1},{"p":9,"g":"a","t":79.7,"s":38.7,"c":1},{"p":9,"g":"a","t":84.2,"s":38.7,"c":1},{"p":9,"g":"a","t":89.8,"s":38.7,"c":1},{"p":9,"g":"a","t":93.2,"s":38.7,"c":1},
{"p":9,"g":"b","t":0,"s":100,"c":0},{"p":9,"g":"b","t":3.4,"s":95.7,"c":0},{"p":9,"g":"b","t":4,"s":92.3,"c":0},{"p":9,"g":"b","t":4.5,"s":87.7,"c":0},{"p":9,"g":"b","t":5.6,"s":78.6,"c":0},{"p":9,"g":"b","t":6,"s":78.6,"c":1},{"p":9,"g":"b","t":6.8,"s":75.7,"c":0},{"p":9,"g":"b","t":7.9,"s":72.9,"c":0},{"p":9,"g":"b","t":8.5,"s":68.3,"c":0},{"p":9,"g":"b","t":9,"s":65.5,"c":0},{"p":9,"g":"b","t":9.6,"s":61.5,"c":0},{"p":9,"g":"b","t":10.7,"s":58.1,"c":0},{"p":9,"g":"b","t":11.9,"s":54.7,"c":0},{"p":9,"g":"b","t":12.4,"s":51.3,"c":0},{"p":9,"g":"b","t":13.6,"s":45.6,"c":0},{"p":9,"g":"b","t":14.7,"s":41,"c":0},{"p":9,"g":"b","t":15.8,"s":37.6,"c":0},{"p":9,"g":"b","t":16.4,"s":35.3,"c":0},{"p":9,"g":"b","t":17.5,"s":31.9,"c":0},{"p":9,"g":"b","t":18.6,"s":28.5,"c":0},{"p":9,"g":"b","t":20.3,"s":26.2,"c":0},{"p":9,"g":"b","t":21.5,"s":24.5,"c":0},{"p":9,"g":"b","t":22.6,"s":21.6,"c":0},{"p":9,"g":"b","t":23.7,"s":16.5,"c":0},{"p":9,"g":"b","t":24.2,"s":16.5,"c":1},{"p":9,"g":"b","t":28.8,"s":13.7,"c":0},{"p":9,"g":"b","t":29.4,"s":9.7,"c":0},{"p":9,"g":"b","t":41.8,"s":6.8,"c":0},
{"p":9,"g":"b","t":58.2,"s":6.8,"c":1},{"p":9,"g":"b","t":60,"s":6.8,"c":1}
],
"lab": [
{"p":1,"k":"n","t":18,"s":97.8,"lab":"NLR (≤3.92; n=43)"},{"p":1,"k":"n","t":17,"s":59,"lab":"NLR (>3.92; n=36)"},{"p":1,"k":"p","t":50.7,"s":2,"lab":"P<0.001*"},
{"p":2,"k":"b","t":12.7,"s":65.7,"lab":"NLR"},{"p":2,"k":"n","t":35.7,"s":65.7,"lab":"(≤2.99; n=30)"},{"p":2,"k":"b","t":14.4,"s":38,"lab":"NLR"},{"p":2,"k":"n","t":37.5,"s":38,"lab":"(>2.99; n=49)"},{"p":2,"k":"p","t":53.6,"s":1.7,"lab":"P=0.015*"},
{"p":3,"k":"b","t":12.4,"s":49.9,"lab":"NLR"},{"p":3,"k":"n","t":36,"s":49.9,"lab":"(≤2.80; n=30)"},{"p":3,"k":"b","t":11.7,"s":21.6,"lab":"NLR"},{"p":3,"k":"n","t":35.3,"s":21.6,"lab":"(>2.80; n=49)"},{"p":3,"k":"p","t":47.6,"s":2.1,"lab":"P=0.027*"},
{"p":4,"k":"n","t":5.6,"s":94.8,"lab":"PLR (≤300.00; n=45)"},{"p":4,"k":"n","t":5.3,"s":41.4,"lab":"PLR (>300.00; n=34)"},{"p":4,"k":"p","t":54.6,"s":1.4,"lab":"P<0.001*"},
{"p":5,"k":"b","t":2.7,"s":67.7,"lab":"PLR"},{"p":5,"k":"n","t":24,"s":67.7,"lab":"(≤265.00; n=35)"},{"p":5,"k":"b","t":2,"s":37.8,"lab":"PLR"},{"p":5,"k":"n","t":24.7,"s":37.8,"lab":"(>265.00; n=44)"},{"p":5,"k":"p","t":49.5,"s":1,"lab":"P=0.005*"},
{"p":6,"k":"b","t":5.3,"s":43.1,"lab":"PLR"},{"p":6,"k":"n","t":29.5,"s":43.1,"lab":"(≤260.00; n=35)"},{"p":6,"k":"b","t":3.9,"s":21.3,"lab":"PLR"},{"p":6,"k":"b","t":27.1,"s":21.3,"lab":"(>260.00; n=44)"},{"p":6,"k":"p","t":49.6,"s":1,"lab":"P=0.027*"},
{"p":7,"k":"n","t":11.7,"s":95.8,"lab":"PNI (≥40.64; n=56)"},{"p":7,"k":"n","t":13.4,"s":43.3,"lab":"PNI (<40.64; n=23)"},{"p":7,"k":"p","t":52.3,"s":2.3,"lab":"P<0.001*"},
{"p":8,"k":"b","t":5.9,"s":77.4,"lab":"PNI"},{"p":8,"k":"n","t":28.2,"s":77.4,"lab":"(≥46.70; n=39)"},{"p":8,"k":"b","t":5.2,"s":18.8,"lab":"PNI"},{"p":8,"k":"n","t":27.5,"s":18.8,"lab":"(<46.70; n=40)"},{"p":8,"k":"p","t":56.6,"s":1.3,"lab":"P<0.001*"},
{"p":9,"k":"b","t":5.3,"s":54,"lab":"PNI"},{"p":9,"k":"n","t":28.4,"s":54,"lab":"(≥46.90; n=37)"},{"p":9,"k":"b","t":7,"s":14.6,"lab":"PNI"},{"p":9,"k":"n","t":29.4,"s":14.6,"lab":"(<46.90; n=42)"},{"p":9,"k":"p","t":53.1,"s":0,"lab":"P<0.001*"}
]
},
"columns": 3,
"spacing": {"row": 136, "column": 141},
"bounds": "flush",
"concat": [
{"width":322,"height":320,"title":"<NLR>","resolve":{"scale":{"color":"independent"}},"layer":[
{"data":{"name":"km"},"transform":[{"filter":"datum.p==1"}],"mark":{"type":"line","interpolate":"step-after","strokeWidth":1.2},"encoding":{"x":{"field":"t","type":"quantitative","scale":{"domain":[-5.4,105.4],"nice":false,"zero":false},"axis":{"values":[0,20,40,60,80,100],"title":"months"}},"y":{"field":"s","type":"quantitative","scale":{"domain":[-5.2,105.2],"nice":false,"zero":false},"axis":{"values":[0,20,40,60,80,100],"title":"12 months survival (%)"}},"color":{"field":"g","type":"nominal","scale":{"domain":["a","b"],"range":["#9aa9e8","#9adb9a"]},"legend":null}}},
{"data":{"name":"km"},"transform":[{"filter":"datum.p==1 && datum.c==1"}],"mark":{"type":"point","filled":true,"size":16,"opacity":1},"encoding":{"x":{"field":"t","type":"quantitative"},"y":{"field":"s","type":"quantitative"},"color":{"field":"g","type":"nominal","scale":{"domain":["a","b"],"range":["#5b6fd0","#4fb84f"]},"legend":null}}},
{"data":{"name":"lab"},"transform":[{"filter":"datum.p==1 && datum.k=='n'"}],"mark":{"type":"text","align":"left","baseline":"middle","fontSize":26},"encoding":{"x":{"field":"t","type":"quantitative"},"y":{"field":"s","type":"quantitative"},"text":{"field":"lab"}}},
{"data":{"name":"lab"},"transform":[{"filter":"datum.p==1 && datum.k=='b'"}],"mark":{"type":"text","align":"left","baseline":"middle","fontSize":29},"encoding":{"x":{"field":"t","type":"quantitative"},"y":{"field":"s","type":"quantitative"},"text":{"field":"lab"}}},
{"data":{"name":"lab"},"transform":[{"filter":"datum.p==1 && datum.k=='p'"}],"mark":{"type":"text","align":"center","baseline":"middle","fontSize":26},"encoding":{"x":{"field":"t","type":"quantitative"},"y":{"field":"s","type":"quantitative"},"text":{"field":"lab"}}}
]},
{"width":322,"height":320,"title":"<NLR>","resolve":{"scale":{"color":"independent"}},"layer":[
{"data":{"name":"km"},"transform":[{"filter":"datum.p==2"}],"mark":{"type":"line","interpolate":"step-after","strokeWidth":1.2},"encoding":{"x":{"field":"t","type":"quantitative","scale":{"domain":[-5.4,105.4],"nice":false,"zero":false},"axis":{"values":[0,20,40,60,80,100],"title":"months"}},"y":{"field":"s","type":"quantitative","scale":{"domain":[-5.2,105.2],"nice":false,"zero":false},"axis":{"values":[0,20,40,60,80,100],"title":"24 months survival (%)"}},"color":{"field":"g","type":"nominal","scale":{"domain":["a","b"],"range":["#9aa9e8","#9adb9a"]},"legend":null}}},
{"data":{"name":"km"},"transform":[{"filter":"datum.p==2 && datum.c==1"}],"mark":{"type":"point","filled":true,"size":16,"opacity":1},"encoding":{"x":{"field":"t","type":"quantitative"},"y":{"field":"s","type":"quantitative"},"color":{"field":"g","type":"nominal","scale":{"domain":["a","b"],"range":["#5b6fd0","#4fb84f"]},"legend":null}}},
{"data":{"name":"lab"},"transform":[{"filter":"datum.p==2 && datum.k=='n'"}],"mark":{"type":"text","align":"left","baseline":"middle","fontSize":26},"encoding":{"x":{"field":"t","type":"quantitative"},"y":{"field":"s","type":"quantitative"},"text":{"field":"lab"}}},
{"data":{"name":"lab"},"transform":[{"filter":"datum.p==2 && datum.k=='b'"}],"mark":{"type":"text","align":"left","baseline":"middle","fontSize":29},"encoding":{"x":{"field":"t","type":"quantitative"},"y":{"field":"s","type":"quantitative"},"text":{"field":"lab"}}},
{"data":{"name":"lab"},"transform":[{"filter":"datum.p==2 && datum.k=='p'"}],"mark":{"type":"text","align":"center","baseline":"middle","fontSize":26},"encoding":{"x":{"field":"t","type":"quantitative"},"y":{"field":"s","type":"quantitative"},"text":{"field":"lab"}}}
]},
{"width":322,"height":320,"title":"<NLR>","resolve":{"scale":{"color":"independent"}},"layer":[
{"data":{"name":"km"},"transform":[{"filter":"datum.p==3"}],"mark":{"type":"line","interpolate":"step-after","strokeWidth":1.2},"encoding":{"x":{"field":"t","type":"quantitative","scale":{"domain":[-5.4,105.4],"nice":false,"zero":false},"axis":{"values":[0,20,40,60,80,100],"title":"months"}},"y":{"field":"s","type":"quantitative","scale":{"domain":[-5.2,105.2],"nice":false,"zero":false},"axis":{"values":[0,20,40,60,80,100],"title":"Overall survival (%)"}},"color":{"field":"g","type":"nominal","scale":{"domain":["a","b"],"range":["#9aa9e8","#9adb9a"]},"legend":null}}},
{"data":{"name":"km"},"transform":[{"filter":"datum.p==3 && datum.c==1"}],"mark":{"type":"point","filled":true,"size":16,"opacity":1},"encoding":{"x":{"field":"t","type":"quantitative"},"y":{"field":"s","type":"quantitative"},"color":{"field":"g","type":"nominal","scale":{"domain":["a","b"],"range":["#5b6fd0","#4fb84f"]},"legend":null}}},
{"data":{"name":"lab"},"transform":[{"filter":"datum.p==3 && datum.k=='n'"}],"mark":{"type":"text","align":"left","baseline":"middle","fontSize":26},"encoding":{"x":{"field":"t","type":"quantitative"},"y":{"field":"s","type":"quantitative"},"text":{"field":"lab"}}},
{"data":{"name":"lab"},"transform":[{"filter":"datum.p==3 && datum.k=='b'"}],"mark":{"type":"text","align":"left","baseline":"middle","fontSize":29},"encoding":{"x":{"field":"t","type":"quantitative"},"y":{"field":"s","type":"quantitative"},"text":{"field":"lab"}}},
{"data":{"name":"lab"},"transform":[{"filter":"datum.p==3 && datum.k=='p'"}],"mark":{"type":"text","align":"center","baseline":"middle","fontSize":26},"encoding":{"x":{"field":"t","type":"quantitative"},"y":{"field":"s","type":"quantitative"},"text":{"field":"lab"}}}
]},
{"width":322,"height":320,"title":"<PLR>","resolve":{"scale":{"color":"independent"}},"layer":[
{"data":{"name":"km"},"transform":[{"filter":"datum.p==4"}],"mark":{"type":"line","interpolate":"step-after","strokeWidth":1.2},"encoding":{"x":{"field":"t","type":"quantitative","scale":{"domain":[-5.4,105.4],"nice":false,"zero":false},"axis":{"values":[0,20,40,60,80,100],"title":"months"}},"y":{"field":"s","type":"quantitative","scale":{"domain":[-5.2,105.2],"nice":false,"zero":false},"axis":{"values":[0,20,40,60,80,100],"title":"12 months survival (%)"}},"color":{"field":"g","type":"nominal","scale":{"domain":["a","b"],"range":["#9aa9e8","#9adb9a"]},"legend":null}}},
{"data":{"name":"km"},"transform":[{"filter":"datum.p==4 && datum.c==1"}],"mark":{"type":"point","filled":true,"size":16,"opacity":1},"encoding":{"x":{"field":"t","type":"quantitative"},"y":{"field":"s","type":"quantitative"},"color":{"field":"g","type":"nominal","scale":{"domain":["a","b"],"range":["#5b6fd0","#4fb84f"]},"legend":null}}},
{"data":{"name":"lab"},"transform":[{"filter":"datum.p==4 && datum.k=='n'"}],"mark":{"type":"text","align":"left","baseline":"middle","fontSize":26},"encoding":{"x":{"field":"t","type":"quantitative"},"y":{"field":"s","type":"quantitative"},"text":{"field":"lab"}}},
{"data":{"name":"lab"},"transform":[{"filter":"datum.p==4 && datum.k=='b'"}],"mark":{"type":"text","align":"left","baseline":"middle","fontSize":29},"encoding":{"x":{"field":"t","type":"quantitative"},"y":{"field":"s","type":"quantitative"},"text":{"field":"lab"}}},
{"data":{"name":"lab"},"transform":[{"filter":"datum.p==4 && datum.k=='p'"}],"mark":{"type":"text","align":"center","baseline":"middle","fontSize":26},"encoding":{"x":{"field":"t","type":"quantitative"},"y":{"field":"s","type":"quantitative"},"text":{"field":"lab"}}}
]},
{"width":322,"height":320,"title":"<PLR>","resolve":{"scale":{"color":"independent"}},"layer":[
{"data":{"name":"km"},"transform":[{"filter":"datum.p==5"}],"mark":{"type":"line","interpolate":"step-after","strokeWidth":1.2},"encoding":{"x":{"field":"t","type":"quantitative","scale":{"domain":[-5.4,105.4],"nice":false,"zero":false},"axis":{"values":[0,20,40,60,80,100],"title":"months"}},"y":{"field":"s","type":"quantitative","scale":{"domain":[-5.2,105.2],"nice":false,"zero":false},"axis":{"values":[0,20,40,60,80,100],"title":"24 months survival (%)"}},"color":{"field":"g","type":"nominal","scale":{"domain":["a","b"],"range":["#9aa9e8","#9adb9a"]},"legend":null}}},
{"data":{"name":"km"},"transform":[{"filter":"datum.p==5 && datum.c==1"}],"mark":{"type":"point","filled":true,"size":16,"opacity":1},"encoding":{"x":{"field":"t","type":"quantitative"},"y":{"field":"s","type":"quantitative"},"color":{"field":"g","type":"nominal","scale":{"domain":["a","b"],"range":["#5b6fd0","#4fb84f"]},"legend":null}}},
{"data":{"name":"lab"},"transform":[{"filter":"datum.p==5 && datum.k=='n'"}],"mark":{"type":"text","align":"left","baseline":"middle","fontSize":26},"encoding":{"x":{"field":"t","type":"quantitative"},"y":{"field":"s","type":"quantitative"},"text":{"field":"lab"}}},
{"data":{"name":"lab"},"transform":[{"filter":"datum.p==5 && datum.k=='b'"}],"mark":{"type":"text","align":"left","baseline":"middle","fontSize":29},"encoding":{"x":{"field":"t","type":"quantitative"},"y":{"field":"s","type":"quantitative"},"text":{"field":"lab"}}},
{"data":{"name":"lab"},"transform":[{"filter":"datum.p==5 && datum.k=='p'"}],"mark":{"type":"text","align":"center","baseline":"middle","fontSize":26},"encoding":{"x":{"field":"t","type":"quantitative"},"y":{"field":"s","type":"quantitative"},"text":{"field":"lab"}}}
]},
{"width":322,"height":320,"title":"<PLR>","resolve":{"scale":{"color":"independent"}},"layer":[
{"data":{"name":"km"},"transform":[{"filter":"datum.p==6"}],"mark":{"type":"line","interpolate":"step-after","strokeWidth":1.2},"encoding":{"x":{"field":"t","type":"quantitative","scale":{"domain":[-5.4,105.4],"nice":false,"zero":false},"axis":{"values":[0,20,40,60,80,100],"title":"months"}},"y":{"field":"s","type":"quantitative","scale":{"domain":[-5.2,105.2],"nice":false,"zero":false},"axis":{"values":[0,20,40,60,80,100],"title":"Overall survival (%)"}},"color":{"field":"g","type":"nominal","scale":{"domain":["a","b"],"range":["#9aa9e8","#9adb9a"]},"legend":null}}},
{"data":{"name":"km"},"transform":[{"filter":"datum.p==6 && datum.c==1"}],"mark":{"type":"point","filled":true,"size":16,"opacity":1},"encoding":{"x":{"field":"t","type":"quantitative"},"y":{"field":"s","type":"quantitative"},"color":{"field":"g","type":"nominal","scale":{"domain":["a","b"],"range":["#5b6fd0","#4fb84f"]},"legend":null}}},
{"data":{"name":"lab"},"transform":[{"filter":"datum.p==6 && datum.k=='n'"}],"mark":{"type":"text","align":"left","baseline":"middle","fontSize":26},"encoding":{"x":{"field":"t","type":"quantitative"},"y":{"field":"s","type":"quantitative"},"text":{"field":"lab"}}},
{"data":{"name":"lab"},"transform":[{"filter":"datum.p==6 && datum.k=='b'"}],"mark":{"type":"text","align":"left","baseline":"middle","fontSize":29},"encoding":{"x":{"field":"t","type":"quantitative"},"y":{"field":"s","type":"quantitative"},"text":{"field":"lab"}}},
{"data":{"name":"lab"},"transform":[{"filter":"datum.p==6 && datum.k=='p'"}],"mark":{"type":"text","align":"center","baseline":"middle","fontSize":26},"encoding":{"x":{"field":"t","type":"quantitative"},"y":{"field":"s","type":"quantitative"},"text":{"field":"lab"}}}
]},
{"width":322,"height":320,"title":"<PNI>","resolve":{"scale":{"color":"independent"}},"layer":[
{"data":{"name":"km"},"transform":[{"filter":"datum.p==7"}],"mark":{"type":"line","interpolate":"step-after","strokeWidth":1.2},"encoding":{"x":{"field":"t","type":"quantitative","scale":{"domain":[-5.4,105.4],"nice":false,"zero":false},"axis":{"values":[0,20,40,60,80,100],"title":"months"}},"y":{"field":"s","type":"quantitative","scale":{"domain":[-5.2,105.2],"nice":false,"zero":false},"axis":{"values":[0,20,40,60,80,100],"title":"12 months survival (%)"}},"color":{"field":"g","type":"nominal","scale":{"domain":["a","b"],"range":["#9aa9e8","#9adb9a"]},"legend":null}}},
{"data":{"name":"km"},"transform":[{"filter":"datum.p==7 && datum.c==1"}],"mark":{"type":"point","filled":true,"size":16,"opacity":1},"encoding":{"x":{"field":"t","type":"quantitative"},"y":{"field":"s","type":"quantitative"},"color":{"field":"g","type":"nominal","scale":{"domain":["a","b"],"range":["#5b6fd0","#4fb84f"]},"legend":null}}},
{"data":{"name":"lab"},"transform":[{"filter":"datum.p==7 && datum.k=='n'"}],"mark":{"type":"text","align":"left","baseline":"middle","fontSize":26},"encoding":{"x":{"field":"t","type":"quantitative"},"y":{"field":"s","type":"quantitative"},"text":{"field":"lab"}}},
{"data":{"name":"lab"},"transform":[{"filter":"datum.p==7 && datum.k=='b'"}],"mark":{"type":"text","align":"left","baseline":"middle","fontSize":29},"encoding":{"x":{"field":"t","type":"quantitative"},"y":{"field":"s","type":"quantitative"},"text":{"field":"lab"}}},
{"data":{"name":"lab"},"transform":[{"filter":"datum.p==7 && datum.k=='p'"}],"mark":{"type":"text","align":"center","baseline":"middle","fontSize":26},"encoding":{"x":{"field":"t","type":"quantitative"},"y":{"field":"s","type":"quantitative"},"text":{"field":"lab"}}}
]},
{"width":322,"height":320,"title":"<PNI>","resolve":{"scale":{"color":"independent"}},"layer":[
{"data":{"name":"km"},"transform":[{"filter":"datum.p==8"}],"mark":{"type":"line","interpolate":"step-after","strokeWidth":1.2},"encoding":{"x":{"field":"t","type":"quantitative","scale":{"domain":[-5.4,105.4],"nice":false,"zero":false},"axis":{"values":[0,20,40,60,80,100],"title":"months"}},"y":{"field":"s","type":"quantitative","scale":{"domain":[-5.2,105.2],"nice":false,"zero":false},"axis":{"values":[0,20,40,60,80,100],"title":"24 months survival (%)"}},"color":{"field":"g","type":"nominal","scale":{"domain":["a","b"],"range":["#9aa9e8","#9adb9a"]},"legend":null}}},
{"data":{"name":"km"},"transform":[{"filter":"datum.p==8 && datum.c==1"}],"mark":{"type":"point","filled":true,"size":16,"opacity":1},"encoding":{"x":{"field":"t","type":"quantitative"},"y":{"field":"s","type":"quantitative"},"color":{"field":"g","type":"nominal","scale":{"domain":["a","b"],"range":["#5b6fd0","#4fb84f"]},"legend":null}}},
{"data":{"name":"lab"},"transform":[{"filter":"datum.p==8 && datum.k=='n'"}],"mark":{"type":"text","align":"left","baseline":"middle","fontSize":26},"encoding":{"x":{"field":"t","type":"quantitative"},"y":{"field":"s","type":"quantitative"},"text":{"field":"lab"}}},
{"data":{"name":"lab"},"transform":[{"filter":"datum.p==8 && datum.k=='b'"}],"mark":{"type":"text","align":"left","baseline":"middle","fontSize":29},"encoding":{"x":{"field":"t","type":"quantitative"},"y":{"field":"s","type":"quantitative"},"text":{"field":"lab"}}},
{"data":{"name":"lab"},"transform":[{"filter":"datum.p==8 && datum.k=='p'"}],"mark":{"type":"text","align":"center","baseline":"middle","fontSize":26},"encoding":{"x":{"field":"t","type":"quantitative"},"y":{"field":"s","type":"quantitative"},"text":{"field":"lab"}}}
]},
{"width":322,"height":320,"title":"<PNI>","resolve":{"scale":{"color":"independent"}},"layer":[
{"data":{"name":"km"},"transform":[{"filter":"datum.p==9"}],"mark":{"type":"line","interpolate":"step-after","strokeWidth":1.2},"encoding":{"x":{"field":"t","type":"quantitative","scale":{"domain":[-5.4,105.4],"nice":false,"zero":false},"axis":{"values":[0,20,40,60,80,100],"title":"months"}},"y":{"field":"s","type":"quantitative","scale":{"domain":[-5.2,105.2],"nice":false,"zero":false},"axis":{"values":[0,20,40,60,80,100],"title":"Overall survival (%)"}},"color":{"field":"g","type":"nominal","scale":{"domain":["a","b"],"range":["#9aa9e8","#9adb9a"]},"legend":null}}},
{"data":{"name":"km"},"transform":[{"filter":"datum.p==9 && datum.c==1"}],"mark":{"type":"point","filled":true,"size":16,"opacity":1},"encoding":{"x":{"field":"t","type":"quantitative"},"y":{"field":"s","type":"quantitative"},"color":{"field":"g","type":"nominal","scale":{"domain":["a","b"],"range":["#5b6fd0","#4fb84f"]},"legend":null}}},
{"data":{"name":"lab"},"transform":[{"filter":"datum.p==9 && datum.k=='n'"}],"mark":{"type":"text","align":"left","baseline":"middle","fontSize":26},"encoding":{"x":{"field":"t","type":"quantitative"},"y":{"field":"s","type":"quantitative"},"text":{"field":"lab"}}},
{"data":{"name":"lab"},"transform":[{"filter":"datum.p==9 && datum.k=='b'"}],"mark":{"type":"text","align":"left","baseline":"middle","fontSize":29},"encoding":{"x":{"field":"t","type":"quantitative"},"y":{"field":"s","type":"quantitative"},"text":{"field":"lab"}}},
{"data":{"name":"lab"},"transform":[{"filter":"datum.p==9 && datum.k=='p'"}],"mark":{"type":"text","align":"center","baseline":"middle","fontSize":26},"encoding":{"x":{"field":"t","type":"quantitative"},"y":{"field":"s","type":"quantitative"},"text":{"field":"lab"}}}
]}
]
}
